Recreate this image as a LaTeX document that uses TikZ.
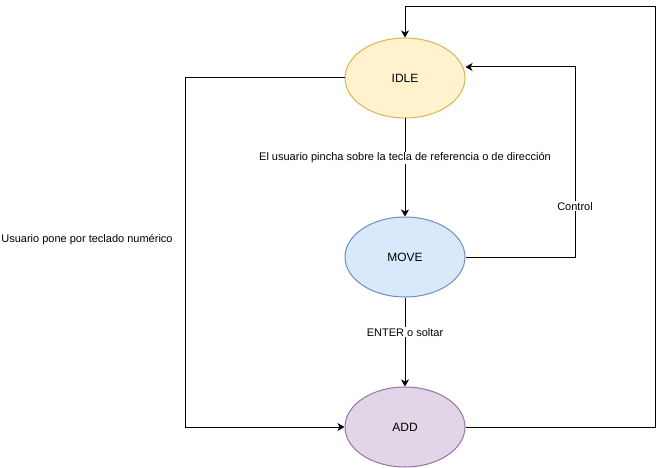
\documentclass[tikz,border=0pt]{standalone}
\usepackage{fontspec}
\setmainfont{Liberation Sans}
\usetikzlibrary{arrows.meta}
\usetikzlibrary{shapes.geometric}
\usetikzlibrary{positioning}
\definecolor{idlefill}{HTML}{FFF2CC}
\definecolor{idledraw}{HTML}{D6B656}
\definecolor{movefill}{HTML}{DAE8FC}
\definecolor{movedraw}{HTML}{6C8EBF}
\definecolor{addfill}{HTML}{E1D5E7}
\definecolor{adddraw}{HTML}{9673A6}
\tikzset{state/.style = {ellipse, draw, line width=1pt, inner sep=0,
                         minimum width=120pt, minimum height=80pt,
                         font=\fontsize{12}{14}\selectfont}}
\tikzset{flow/.style = {draw, line width=1pt,
                        -{Stealth[length=7pt, width=8pt, inset=2pt]}}}
\tikzset{lbl/.style = {fill=white, inner sep=1pt, font=\fontsize{11}{13}\selectfont}}

\begin{document}
\begin{tikzpicture}[x=1pt, y=-1pt]
      \useasboundingbox (0, 0) rectangle (664, 468);
      \node [state, fill=idlefill, draw=idledraw] (idle) at (405, 78) {IDLE};
      \node [state, fill=movefill, draw=movedraw] (move) at (405, 257) {MOVE};
      \node [state, fill=addfill, draw=adddraw] (add) at (405, 427) {ADD};

      \coordinate (topright) at (655, 7);
      \coordinate (ctrlcorner) at (575, 67);
      \coordinate (botleft) at (185, 427);

      \draw [flow] (idle) -- node [lbl, pos=0.4] {El usuario pincha sobre la tecla de referencia o de dirección} (move);
      \draw [flow] (move) -- node [lbl, pos=0.39] {ENTER o soltar} (add);
      \draw [flow] (move.east) -| node [lbl, pos=0.634] {Control} (ctrlcorner) -- (ctrlcorner -| idle.east);
      \draw [flow] (add.east) -| (topright) -| (idle.north);
      \draw [flow] (idle.west) -| (botleft) -- (add.west);

      \node [lbl] (numlbl) at (87, 240) {Usuario pone por teclado numérico};
    \end{tikzpicture}
\end{document}
